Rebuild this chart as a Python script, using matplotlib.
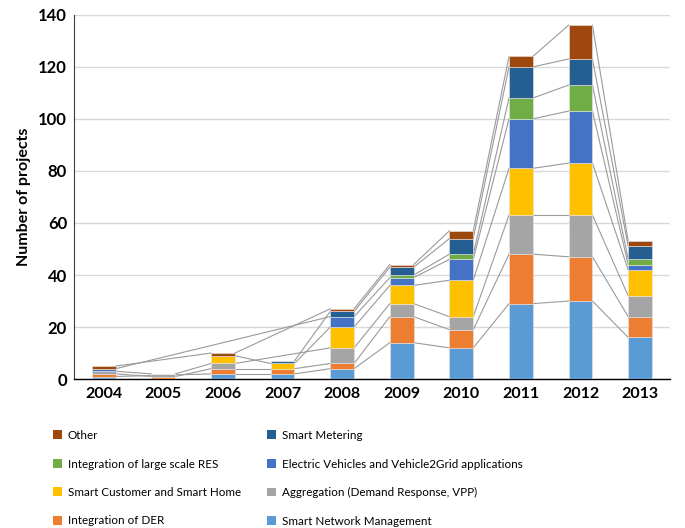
import matplotlib
matplotlib.use("Agg")
import matplotlib.pyplot as plt
from matplotlib.patches import Patch
import numpy as np

plt.rcParams['font.family'] = ['Lato', 'DejaVu Sans']

years = ["2004", "2005", "2006", "2007", "2008", "2009", "2010", "2011", "2012", "2013"]

# Stacked from bottom to top
smart_network_mgmt = [1, 0, 2, 2, 4, 14, 12, 29, 30, 16]
integration_der    = [1, 1, 2, 2, 2, 10, 7, 19, 17, 8]
aggregation        = [1, 1, 2, 0, 6, 5, 5, 15, 16, 8]
smart_customer     = [0, 0, 3, 2, 8, 7, 14, 18, 20, 10]
electric_vehicles  = [1, 0, 0, 0, 4, 3, 8, 19, 20, 2]
large_scale_res    = [0, 0, 0, 0, 0, 1, 2, 8, 10, 2]
smart_metering     = [0, 0, 0, 1, 2, 3, 6, 12, 10, 5]
other              = [1, 0, 1, 0, 1, 1, 3, 4, 13, 2]

series_names = [
    "Smart Network Management",
    "Integration of DER",
    "Aggregation (Demand Response, VPP)",
    "Smart Customer and Smart Home",
    "Electric Vehicles and Vehicle2Grid applications",
    "Integration of large scale RES",
    "Smart Metering",
    "Other",
]
series_values = [smart_network_mgmt, integration_der, aggregation, smart_customer,
                 electric_vehicles, large_scale_res, smart_metering, other]
series_colors = ["#5B9BD5", "#ED7D31", "#A5A5A5", "#FFC000",
                 "#4472C4", "#70AD47", "#255E91", "#9E480E"]

fig = plt.figure(figsize=(6.85, 5.28), dpi=100)
ax = fig.add_axes([0.108, 0.282, 0.870, 0.690])

x = np.arange(len(years))
width = 0.4
bottom = np.zeros(len(years))
tops = []
for vals, col, name in zip(series_values, series_colors, series_names):
    v = np.array(vals, dtype=float)
    ax.bar(x, v, width, bottom=bottom, color=col, edgecolor="#e6e6e6",
           linewidth=0.4, zorder=3, label=name)
    bottom = bottom + v
    tops.append((v, bottom.copy()))

# Series lines: join each segment's top to its next non-empty occurrence
for v, top in tops:
    idx = [i for i in range(len(years)) if v[i] > 0]
    for a, b in zip(idx[:-1], idx[1:]):
        ax.plot([x[a] + width / 2, x[b] - width / 2], [top[a], top[b]],
                color="#9a9a9a", linewidth=0.8, zorder=2)

ax.set_xlim(-0.5, len(years) - 0.5)
ax.set_ylim(0, 140)
ax.set_yticks(np.arange(0, 141, 20))
ax.yaxis.grid(True, color="#d9d9d9", linewidth=1.0, zorder=0)
ax.set_axisbelow(True)
ax.set_xticks(x)
ax.set_xticklabels(years)
ax.tick_params(axis="x", length=0, labelsize=11.5, pad=6)
ax.tick_params(axis="y", length=0, labelsize=12, pad=5)
for lab in ax.get_xticklabels() + ax.get_yticklabels():
    lab.set_fontweight("bold")
ax.set_ylabel("Number of projects", fontsize=11.5, fontweight="bold", labelpad=5)

for s in ["top", "right"]:
    ax.spines[s].set_visible(False)
ax.spines["bottom"].set_color("#000000")
ax.spines["bottom"].set_linewidth(1.0)
ax.spines["left"].set_color("#404040")
ax.spines["left"].set_linewidth(0.8)

# Legend in two columns, reading row by row from the top series down
handles = [Patch(facecolor=c, edgecolor="none") for c in series_colors]
order_left = [7, 5, 3, 1]
order_right = [6, 4, 2, 0]
common = dict(frameon=False, fontsize=8.4, handlelength=0.8, handleheight=0.8,
              handletextpad=0.45, labelspacing=1.5, borderpad=0, borderaxespad=0,
              loc="upper left")
fig.legend([handles[i] for i in order_left], [series_names[i] for i in order_left],
           bbox_to_anchor=(53 / 685, 1 - 430 / 528), **common)
fig.legend([handles[i] for i in order_right], [series_names[i] for i in order_right],
           bbox_to_anchor=(267 / 685, 1 - 430 / 528), **common)

fig.savefig("out.png", dpi=100)
